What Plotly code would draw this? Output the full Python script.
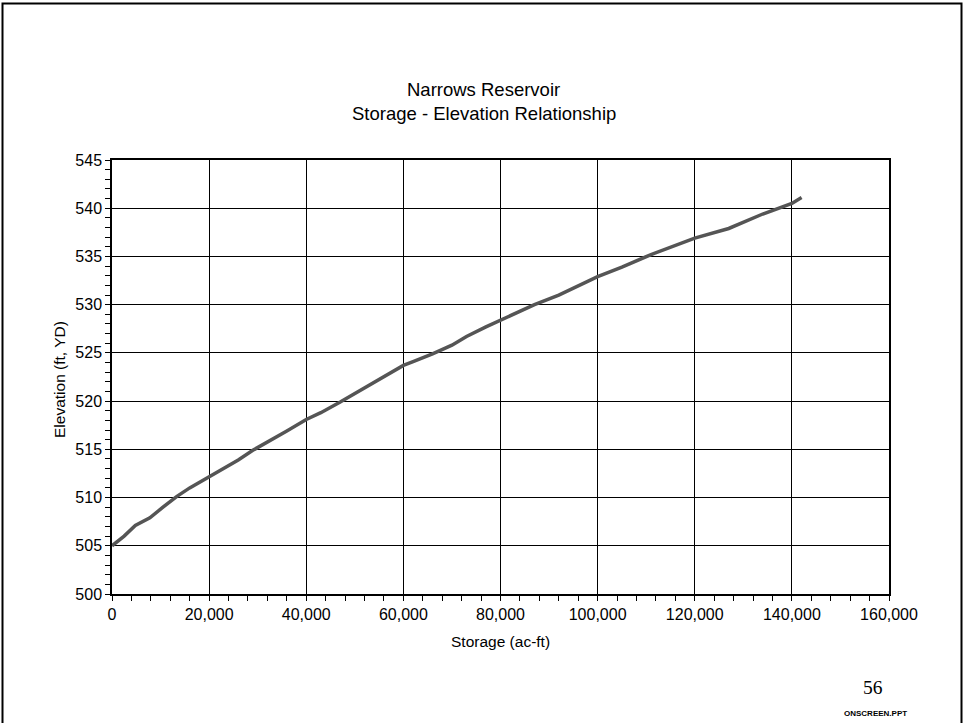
import plotly.graph_objects as go

# ---- data ----
storage_acft = [0, 2500, 4800, 7800, 10500, 13300, 16000, 19500, 23200, 26000,
                29000, 33000, 36000, 40000, 43000, 47000, 54000, 60000, 62000, 66000,
                70000, 73000, 77000, 80000, 87000, 92000, 100000, 105000, 111000,
                120000, 127000, 134000, 140000, 142000]
elevation_ft = [505, 506, 507.1, 507.9, 509, 510.1, 511, 512, 513, 513.9,
                514.9, 516, 516.9, 518.1, 518.8, 519.9, 521.9, 523.7, 524.1, 524.9,
                525.8, 526.7, 527.7, 528.4, 530, 531, 532.9, 533.9, 535.2,
                536.9, 537.9, 539.4, 540.5, 541.1]

title_lines = ["Narrows Reservoir", "Storage - Elevation Relationship"]
x_title = "Storage (ac-ft)"
y_title = "Elevation (ft, YD)"
page_number = "56"
footer = "ONSCREEN.PPT"

# ---- layout geometry ----
W, H = 963, 723
L, R, T, B = 112, 74, 160, 129
PW, PH = W - L - R, H - T - B


def px(x):
    return (x - L) / PW


def py(y):
    return (H - B - y) / PH


FONT = "Liberation Sans, Arial, sans-serif"

fig = go.Figure()
fig.add_trace(go.Scatter(
    x=storage_acft, y=elevation_ft, mode="lines",
    line=dict(color="#555555", width=3.5),
    hoverinfo="skip", showlegend=False,
))

axis_common = dict(
    showline=True, linecolor="black", linewidth=1.5, mirror=True,
    showgrid=True, gridcolor="black", gridwidth=1.4, zeroline=False,
    ticks="outside", ticklen=5, tickwidth=1.4, tickcolor="black",
    tickfont=dict(family=FONT, size=16, color="black"),
)

fig.update_xaxes(
    range=[0, 160000], dtick=20000, tick0=0, tickformat=",",
    minor=dict(dtick=4000, ticks="outside", ticklen=5, tickwidth=1.4,
               tickcolor="black", showgrid=False),
    **axis_common,
)
fig.update_yaxes(
    range=[500, 545], dtick=5, tick0=500,
    minor=dict(dtick=1, ticks="outside", ticklen=5, tickwidth=1.4,
               tickcolor="black", showgrid=False),
    **axis_common,
)

annotations = [
    dict(text=title_lines[0], x=px(483), y=py(90), font=dict(family=FONT, size=18.5, color="black")),
    dict(text=title_lines[1], x=px(484), y=py(113.5), font=dict(family=FONT, size=18.5, color="black")),
    dict(text=x_title, x=px(500.5), y=py(641), font=dict(family=FONT, size=15.5, color="black")),
    dict(text=y_title, x=px(59), y=py(380), textangle=-90, font=dict(family=FONT, size=15.5, color="black")),
    dict(text=page_number, x=px(873), y=py(687), font=dict(family="Liberation Serif, Times New Roman, serif", size=19.5, color="black")),
    dict(text="<b>" + footer + "</b>", x=px(875.5), y=py(713), font=dict(family=FONT, size=8, color="black")),
]
for a in annotations:
    a.update(xref="paper", yref="paper", showarrow=False, xanchor="center", yanchor="middle")

fig.update_layout(
    width=W, height=H, autosize=False,
    margin=dict(l=L, r=R, t=T, b=B, pad=0),
    paper_bgcolor="white", plot_bgcolor="white",
    annotations=annotations,
    shapes=[dict(type="rect", xref="paper", yref="paper",
                 x0=px(2.5), x1=px(961.5), y0=py(730), y1=py(3.5),
                 line=dict(color="black", width=2), layer="above")],
    showlegend=False,
)

fig.write_html(
    "out.html",
    config={"displayModeBar": False},
    post_script="document.body.style.margin='0';document.body.style.overflow='hidden';",
)
